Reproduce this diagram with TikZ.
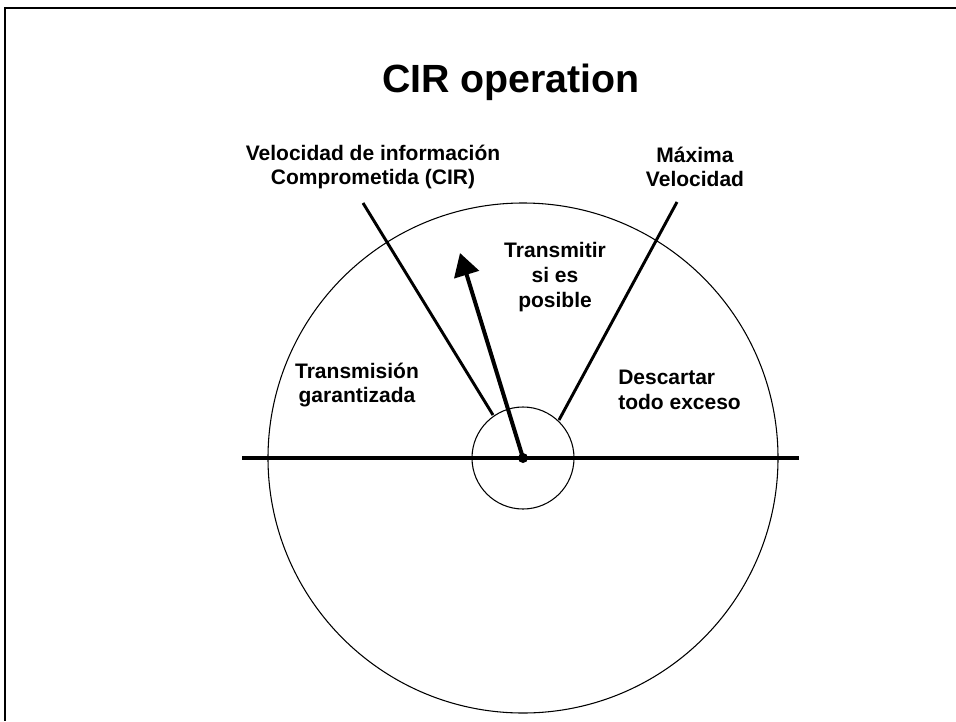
\documentclass[tikz,border=0pt]{standalone}
\usepackage{fontspec}
\setmainfont{Liberation Sans}
\usepackage{tikz}
\usetikzlibrary{positioning,arrows.meta,calc}
\definecolor{inkblack}{RGB}{0,0,0}
\tikzset{
  title-text/.style={font=\fontsize{29.5}{35}\selectfont\bfseries, align=center, inner sep=0pt},
  zone-label/.style={font=\fontsize{15.75}{18.5}\selectfont\bfseries, align=center, inner sep=0pt},
  frame-line/.style={draw=inkblack, line width=1.6pt},
  rate-line/.style={draw=inkblack, line width=2.2pt},
  axis-line/.style={draw=inkblack, line width=2.4pt},
  thin-circle/.style={draw=inkblack, line width=0.8pt},
  rate-arrow/.style={-{Triangle[length=17pt, width=19pt]}, line width=3pt, draw=inkblack}
}

\begin{document}
\begin{tikzpicture}[x=0.75pt, y=-0.75pt]
\useasboundingbox (0,0) rectangle (956,721);

% Frame (cut at right and bottom)
\coordinate (fr-r) at (956,8);
\coordinate (fr-c) at (5,8);
\coordinate (fr-b) at (5,721);
\draw[frame-line] (fr-r) -- (fr-c) -- (fr-b);

% Title
\node[title-text] (title) at (511,82) {CIR operation};

% Centre and circles
\coordinate (ctr) at (523,458);
\draw[thin-circle] (ctr) circle[radius=255];
\draw[thin-circle] (ctr) circle[radius=51];

% Horizontal axis
\coordinate (ax-l) at (242,458);
\coordinate (ax-r) at (799,458);
\draw[axis-line] (ax-l) -- (ax-r);

% Rate lines
\coordinate (cir-top) at (363,203);
\coordinate (cir-bot) at (493,415);
\coordinate (max-top) at (677,202);
\coordinate (max-bot) at (559,420);
\draw[rate-line] (cir-top) -- (cir-bot);
\draw[rate-line] (max-top) -- (max-bot);

% Arrow from centre
\coordinate (tip) at (460,253);
\draw[rate-arrow] (ctr) -- (tip);
\fill[inkblack] (ctr) circle[radius=5];

% Labels
\node[zone-label] (cir) at (373,167) {Velocidad de información\\Comprometida (CIR)};
\node[zone-label] (max) at (695,167) {Máxima\\Velocidad};
\node[zone-label] (try) at (555,277) {Transmitir\\si es\\posible};
\node[zone-label] (sure) at (357,385) {Transmisión\\garantizada};
\node[zone-label, align=left, anchor=west] (drop) at (618,390) {Descartar\\todo exceso};
\end{tikzpicture}
\end{document}
